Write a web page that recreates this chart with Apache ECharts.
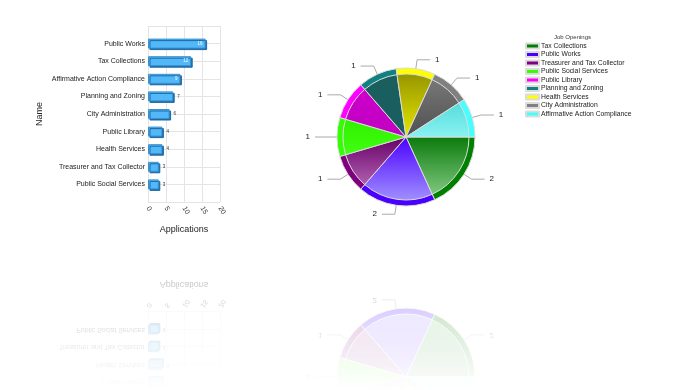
<!DOCTYPE html>
<html>
<head>
<meta charset="utf-8">
<script src="https://cdn.jsdelivr.net/npm/echarts@6/dist/echarts.min.js"></script>
<style>
html,body{margin:0;padding:0;background:#fff;overflow:hidden;}
#wrap{position:relative;width:675px;height:390px;overflow:hidden;}
#main{position:absolute;left:0;top:0;width:675px;height:257px;}
#refl{position:absolute;left:0;top:257px;width:675px;height:257px;transform:scaleY(-1);transform-origin:50% 50%;
 -webkit-mask-image:linear-gradient(to bottom, rgba(0,0,0,0) 0%, rgba(0,0,0,0) 48%, rgba(0,0,0,0.32) 100%);
 mask-image:linear-gradient(to bottom, rgba(0,0,0,0) 0%, rgba(0,0,0,0) 48%, rgba(0,0,0,0.32) 100%);}
</style>
</head>
<body>
<div id="wrap"><div id="main"></div><div id="refl"></div></div>
<script>
// ---- data ----
var barCategories = ['Public Works','Tax Collections','Affirmative Action Compliance','Planning and Zoning','City Administration','Public Library','Health Services','Treasurer and Tax Collector','Public Social Services'];
var barValues = [16, 12, 9, 7, 6, 4, 4, 3, 3];
var xTicks = [0, 5, 10, 15, 20];
var pieNames = ['Tax Collections','Public Works','Treasurer and Tax Collector','Public Social Services','Public Library','Planning and Zoning','Health Services','City Administration','Affirmative Action Compliance'];
var pieValues = [2, 2, 1, 1, 1, 1, 1, 1, 1];

// ---- styles ----
var FONT = '"Liberation Sans", Arial, sans-serif';
var rimColors = ['#008000','#4a00ff','#800080','#33ff00','#ff00ff','#108080','#ffff00','#808080','#45ffff'];
var gradTop =   ['#0a7a0a','#4a00ff','#680068','#30f000','#cc00cc','#1a5e5e','#959500','#777777','#55dcdc'];
var gradBot =   ['#80c880','#a090ff','#b060b0','#40ff10','#c000c0','#1a6060','#e8e800','#505050','#8af2f2'];

function buildOption(){
  var cats = [''].concat(barCategories).concat(['']);
  var vals = [null].concat(barValues).concat([null]);
  var barData = vals.map(function(v){
    if (v === null) return null;
    var inside = v >= 8;
    return {value: v, label: {position: inside ? 'insideRight' : 'right', color: inside ? '#fff' : '#333', distance: inside ? 3 : 4}};
  });
  var outer = pieNames.map(function(n,i){ return {name:n, value:pieValues[i], itemStyle:{color:rimColors[i]}}; });
  var inner = pieNames.map(function(n,i){ return {name:n, value:pieValues[i], itemStyle:{color:{type:'linear',x:0,y:0,x2:0,y2:1,colorStops:[{offset:0,color:gradTop[i]},{offset:1,color:gradBot[i]}]}}}; });
  return {
    animation:false,
    backgroundColor:'#fff',
    textStyle:{fontFamily:FONT},
    title:{text:'Job Openings', left:554, top:34, padding:0, textStyle:{fontSize:6, fontWeight:'normal', color:'#333', fontFamily:FONT}},
    legend:{orient:'vertical', left:525, top:42, padding:0, icon:'rect', itemWidth:13, itemHeight:5, itemGap:0.5,
      textStyle:{fontSize:6.8, color:'#222', lineHeight:8, padding:[0,0,0,-3], fontFamily:FONT}, data:pieNames},
    grid:{left:148, right:455, top:26, bottom:55, containLabel:false},
    xAxis:{type:'value', min:0, max:20, interval:5, name:'Applications', nameLocation:'middle', nameGap:23,
      nameTextStyle:{fontSize:9, color:'#222', fontFamily:FONT},
      axisLine:{show:false}, axisTick:{show:false},
      axisLabel:{rotate:-60, fontSize:7, color:'#333', margin:5, fontFamily:FONT,
        formatter:function(v){ return xTicks.indexOf(v) >= 0 ? String(v) : ''; }},
      splitLine:{show:true, lineStyle:{color:'#e4e4e4', width:1}}},
    yAxis:{type:'category', data:cats, inverse:true, boundaryGap:false, name:'Name', nameLocation:'middle', nameGap:104, nameRotate:90,
      nameTextStyle:{fontSize:9, color:'#222', fontFamily:FONT},
      axisLine:{show:false}, axisTick:{show:false},
      axisLabel:{fontSize:7, color:'#222', margin:3, fontFamily:FONT},
      splitLine:{show:true, lineStyle:{color:'#e4e4e4', width:1}}},
    series:[
      {type:'bar', data:barData, barWidth:10,
        itemStyle:{color:'#52b8f8', borderColor:'#3a90d0', borderWidth:1, shadowColor:'#1d6aa6', shadowOffsetX:1.5, shadowOffsetY:1.5, shadowBlur:0},
        label:{show:true, fontSize:4.5, fontFamily:FONT}},
      {type:'pie', name:'Job Openings', center:[406,137], radius:[0,69], startAngle:0, clockwise:true, data:outer,
        avoidLabelOverlap:false,
        itemStyle:{borderColor:'#dcdcdc', borderWidth:1},
        label:{show:true, formatter:'{c}', fontSize:8, color:'#222', fontFamily:FONT},
        labelLine:{show:true, length:9, length2:13, lineStyle:{color:'#aaaaaa', width:1}}},
      {type:'pie', center:[406,137], radius:[0,63], startAngle:0, clockwise:true, data:inner, silent:true,
        itemStyle:{borderColor:'#dcdcdc', borderWidth:1},
        label:{show:false}, labelLine:{show:false}, legendHoverLink:false}
    ]
  };
}
var c1 = echarts.init(document.getElementById('main'), null, {renderer:'canvas'});
c1.setOption(buildOption());
var c2 = echarts.init(document.getElementById('refl'), null, {renderer:'canvas'});
c2.setOption(buildOption());
</script>
</body>
</html>
